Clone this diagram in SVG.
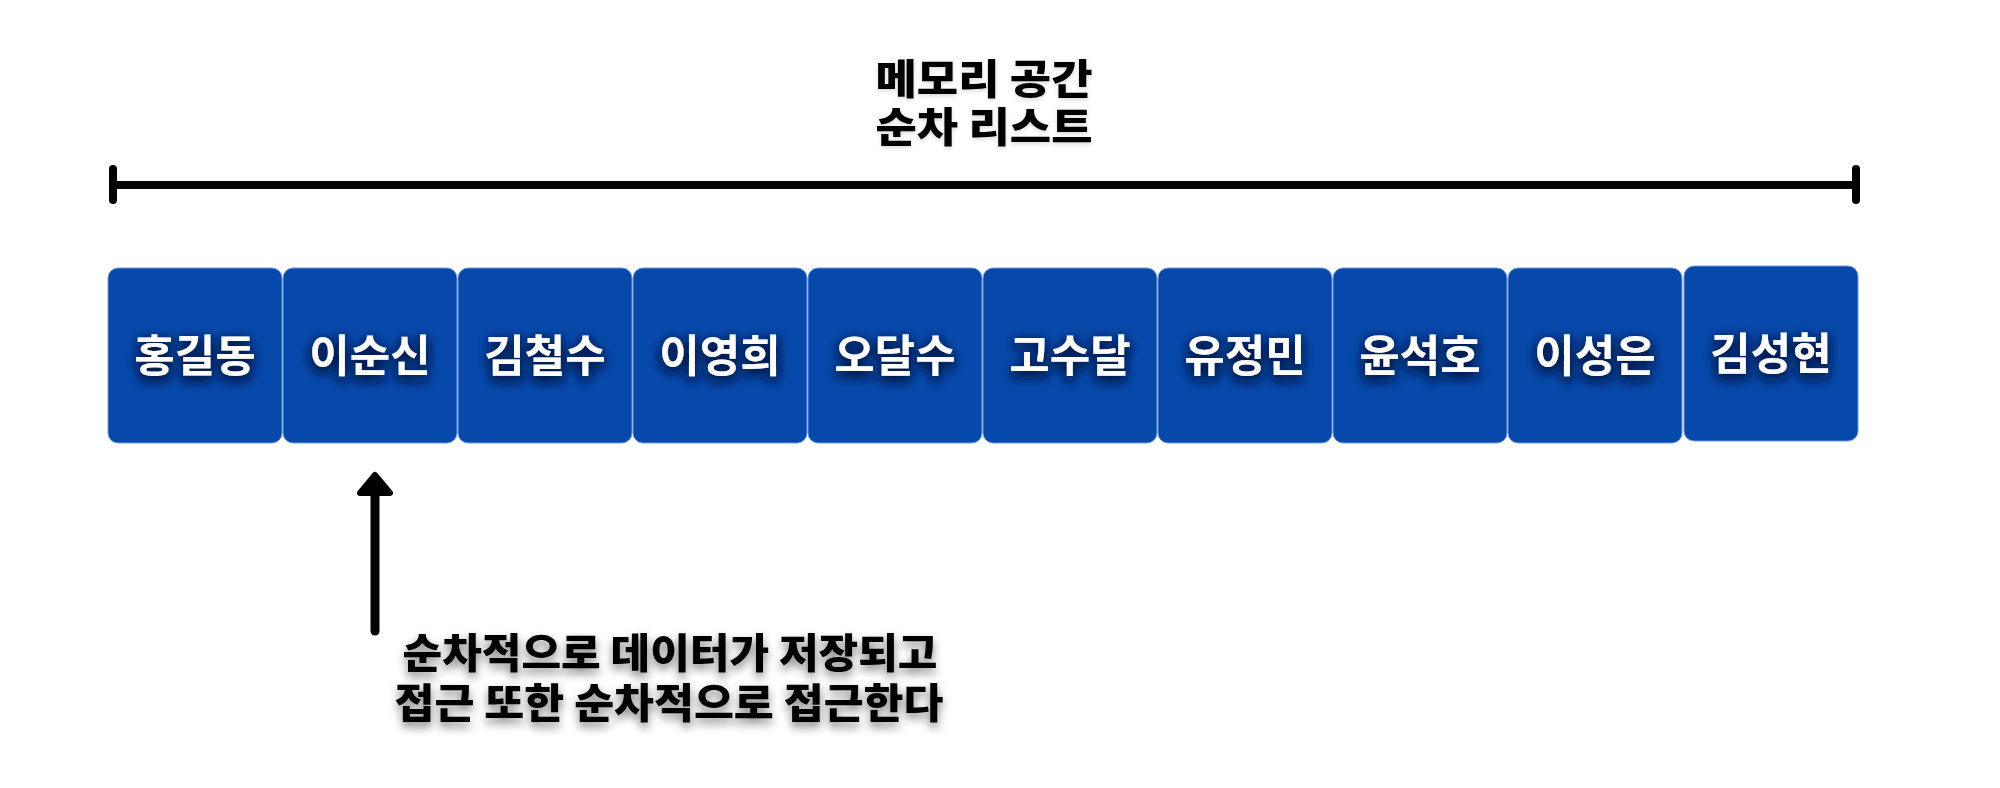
<svg xmlns="http://www.w3.org/2000/svg" width="2000" height="788" viewBox="0 0 2000 788">
<defs>
<filter id="glowBlue" x="-20%" y="-50%" width="140%" height="200%">
<feGaussianBlur in="SourceAlpha" stdDeviation="6"/>
<feOffset dx="0" dy="4" result="b"/>
<feFlood flood-color="#001a40" flood-opacity="1"/>
<feComposite in2="b" operator="in" result="s"/>
<feMerge><feMergeNode in="s"/><feMergeNode in="s"/><feMergeNode in="SourceGraphic"/></feMerge>
</filter>
<filter id="shadowGray" x="-10%" y="-50%" width="120%" height="200%">
<feGaussianBlur in="SourceAlpha" stdDeviation="5"/>
<feOffset dx="0" dy="5" result="b"/>
<feFlood flood-color="#000" flood-opacity="0.5"/>
<feComposite in2="b" operator="in"/>
<feMerge><feMergeNode/><feMergeNode in="SourceGraphic"/></feMerge>
</filter>
<filter id="shadowLight" x="-10%" y="-40%" width="120%" height="180%">
<feGaussianBlur in="SourceAlpha" stdDeviation="2"/>
<feOffset dx="0" dy="2" result="b"/>
<feFlood flood-color="#000" flood-opacity="0.15"/>
<feComposite in2="b" operator="in"/>
<feMerge><feMergeNode/><feMergeNode in="SourceGraphic"/></feMerge>
</filter>
</defs>
<style>
.box{fill:#0649aa;stroke:#6d9be0;stroke-width:1}
.lbl{font-family:"Noto Sans CJK KR","Noto Sans",sans-serif;font-weight:700;font-size:44px;fill:#fff;text-anchor:middle;filter:url(#glowBlue)}
.title{font-family:"Noto Sans CJK KR","Noto Sans",sans-serif;font-weight:900;font-size:41px;fill:#000;text-anchor:middle;filter:url(#shadowLight)}
.note{font-family:"Noto Sans CJK KR","Noto Sans",sans-serif;font-weight:900;font-size:41px;fill:#000;text-anchor:middle;filter:url(#shadowGray)}
.ln{stroke:#000;stroke-width:8;stroke-linecap:round;fill:none}
</style>
<rect width="2000" height="788" fill="#fff"/>
<g id="title">
<text class="title" x="984" y="94" textLength="217" lengthAdjust="spacingAndGlyphs">메모리 공간</text>
<text class="title" x="984" y="142" textLength="217" lengthAdjust="spacingAndGlyphs">순차 리스트</text>
</g>
<g id="connectors">
<line class="ln" x1="113" y1="185" x2="1856" y2="185"/>
<line class="ln" x1="113" y1="169" x2="113" y2="200"/>
<line class="ln" x1="1856" y1="169" x2="1856" y2="200"/>
<line class="ln" x1="375" y1="492" x2="375" y2="631" style="stroke-width:9"/>
<path d="M375 475 L390 493 L360 493 Z" fill="#000" stroke="#000" stroke-width="6" stroke-linejoin="round"/>
</g>
<g id="n1"><rect class="box" x="108" y="268" width="174" height="175" rx="10"/><text class="lbl" x="195" y="372">홍길동</text></g>
<g id="n2"><rect class="box" x="283" y="268" width="174" height="175" rx="10"/><text class="lbl" x="370" y="372">이순신</text></g>
<g id="n3"><rect class="box" x="458" y="268" width="174" height="175" rx="10"/><text class="lbl" x="545" y="372">김철수</text></g>
<g id="n4"><rect class="box" x="633" y="268" width="174" height="175" rx="10"/><text class="lbl" x="720" y="372">이영희</text></g>
<g id="n5"><rect class="box" x="808" y="268" width="174" height="175" rx="10"/><text class="lbl" x="895" y="372">오달수</text></g>
<g id="n6"><rect class="box" x="983" y="268" width="174" height="175" rx="10"/><text class="lbl" x="1070" y="372">고수달</text></g>
<g id="n7"><rect class="box" x="1158" y="268" width="174" height="175" rx="10"/><text class="lbl" x="1245" y="372">유정민</text></g>
<g id="n8"><rect class="box" x="1333" y="268" width="174" height="175" rx="10"/><text class="lbl" x="1420" y="372">윤석호</text></g>
<g id="n9"><rect class="box" x="1508" y="268" width="174" height="175" rx="10"/><text class="lbl" x="1595" y="372">이성은</text></g>
<g id="n10"><rect class="box" x="1684" y="266" width="174" height="175" rx="10"/><text class="lbl" x="1771" y="370">김성현</text></g>
<g id="note">
<text class="note" x="670" y="668" textLength="535" lengthAdjust="spacingAndGlyphs">순차적으로 데이터가 저장되고</text>
<text class="note" x="669" y="718" textLength="549" lengthAdjust="spacingAndGlyphs">접근 또한 순차적으로 접근한다</text>
</g>
</svg>
